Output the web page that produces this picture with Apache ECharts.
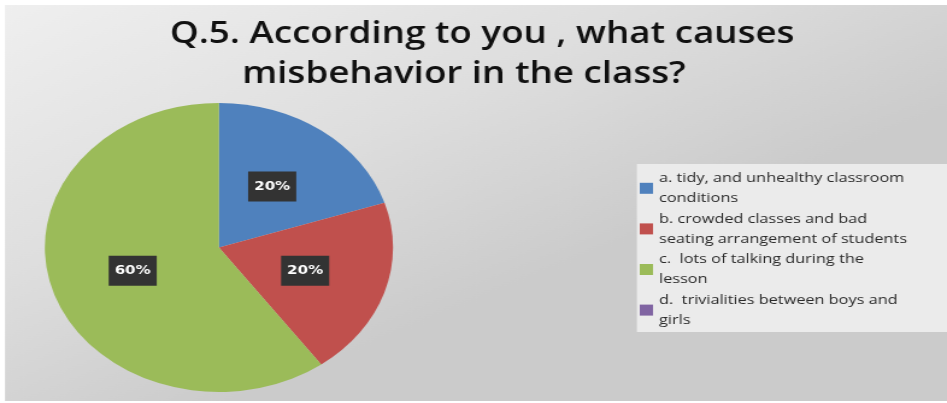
<!DOCTYPE html>
<html>
<head>
<meta charset="utf-8">
<script src="https://cdn.jsdelivr.net/npm/echarts@6/dist/echarts.min.js"></script>
<style>
  html, body { margin: 0; padding: 0; background: #ffffff; overflow: hidden; }
  #wrap { position: absolute; left: 0; top: 0; width: 947px; height: 403px; overflow: hidden; }
  #chart { position: absolute; left: 0; top: 0; width: 786px; height: 403px;
           transform: scaleX(1.2048); transform-origin: 0 0; }
</style>
</head>
<body>
<div id="wrap"><div id="chart"></div></div>
<script>
// ---- data ----
const titleLines = ["Q.5. According to you , what causes", "misbehavior in the class?"];
const categories = [
  "a. tidy, and unhealthy classroom\nconditions",
  "b. crowded classes and bad\nseating arrangement of students",
  "c.  lots of talking during the\nlesson",
  "d.  trivialities between boys and\ngirls"
];
const values = [20, 20, 60, 0];
const colors = ["#4F81BD", "#C0504D", "#9BBB59", "#8064A2"];

// ---- chart ----
const chart = echarts.init(document.getElementById('chart'), null, { renderer: 'canvas' });
const pieData = categories.map((name, i) => {
  const item = { name: name, value: values[i], itemStyle: { color: colors[i] } };
  if (values[i] === 0) item.label = { show: false };
  return item;
});

const titleStyle = { fontFamily: 'Open Sans', fontSize: 30.5, fontWeight: 600, color: '#111', lineHeight: 40 };

const option = {
  backgroundColor: '#ffffff',
  animation: false,
  graphic: [
    {
      type: 'rect', z: -10, silent: true,
      shape: { x: 4.15, y: 5, width: 782, height: 396 },
      style: {
        fill: new echarts.graphic.LinearGradient(0, 0, 0.25, 1, [
          { offset: 0, color: '#efefef' },
          { offset: 0.55, color: '#dedede' },
          { offset: 1, color: '#cbcbcb' }
        ])
      }
    },
    {
      type: 'rect', z: -5, silent: true,
      shape: { x: 528.6, y: 164, width: 260, height: 168 },
      style: { fill: '#ebebeb' }
    }
  ],
  title: [
    { text: titleLines[0], left: 136, top: 9, textStyle: titleStyle },
    { text: titleLines[1], left: 196, top: 49, textStyle: titleStyle }
  ],
  legend: {
    orient: 'vertical',
    left: 531, top: 168,
    padding: 0,
    itemWidth: 11, itemHeight: 11,
    itemGap: 0,
    icon: 'rect',
    data: categories,
    textStyle: { fontFamily: 'Open Sans', fontSize: 13.5, color: '#2a2a2a', lineHeight: 20.3, padding: [0, 0, 0, 0] },
    selectedMode: false
  },
  series: [{
    type: 'pie',
    center: [181.7, 247.5],
    radius: 144.5,
    startAngle: 90,
    clockwise: true,
    avoidLabelOverlap: false,
    itemStyle: { borderWidth: 0 },
    label: {
      show: true,
      position: 'inside',
      formatter: '{d}%',
      color: '#ffffff',
      fontFamily: 'DejaVu Sans',
      fontWeight: 'bold',
      fontSize: 12.5,
      lineHeight: 16,
      backgroundColor: '#333333',
      padding: [7, 5]
    },
    labelLine: { show: false },
    emphasis: { disabled: true },
    data: pieData
  }]
};
chart.setOption(option);
</script>
</body>
</html>
